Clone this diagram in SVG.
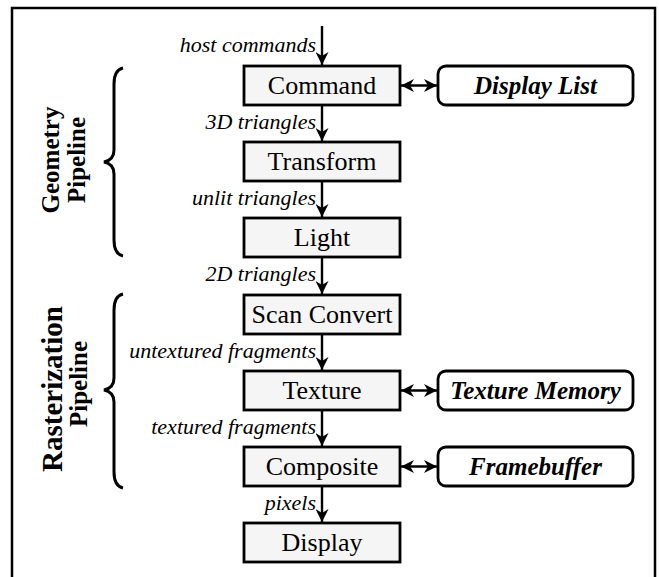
<svg xmlns="http://www.w3.org/2000/svg" width="659" height="577" viewBox="0 0 659 577">
<defs>
<style>
.frame{fill:none;stroke:#000;stroke-width:2.5}
.box{fill:#f5f5f5;stroke:#000;stroke-width:2.8}
.mem{fill:#fff;stroke:#000;stroke-width:2.8}
.bt{font-family:"Liberation Serif",serif;font-size:26px;text-anchor:middle;fill:#000}
.mt{font-family:"Liberation Serif",serif;font-size:25px;font-weight:bold;font-style:italic;text-anchor:middle;fill:#000}
.lb{font-family:"Liberation Serif",serif;font-size:22px;font-style:italic;text-anchor:end;fill:#000}
.pl{font-family:"Liberation Serif",serif;font-size:25px;font-weight:bold;text-anchor:middle;fill:#000}
.ln{fill:none;stroke:#000;stroke-width:2.4}
.br{fill:none;stroke:#000;stroke-width:3}
</style>
<marker id="ah2" viewBox="0 0 10 10" refX="10" refY="5" markerWidth="14" markerHeight="13" orient="auto-start-reverse" markerUnits="userSpaceOnUse">
<path d="M0,0 L10,5 L0,10 L3,5 Z" fill="#000"/>
</marker>
</defs>
<rect class="frame" x="12" y="8" width="643" height="580"/>

<g id="connectors">
<line class="ln" x1="322" y1="26" x2="322" y2="65" marker-end="url(#ah2)"/>
<line class="ln" x1="322" y1="105" x2="322" y2="141" marker-end="url(#ah2)"/>
<line class="ln" x1="322" y1="181" x2="322" y2="217" marker-end="url(#ah2)"/>
<line class="ln" x1="322" y1="257" x2="322" y2="294" marker-end="url(#ah2)"/>
<line class="ln" x1="322" y1="334" x2="322" y2="370" marker-end="url(#ah2)"/>
<line class="ln" x1="322" y1="410" x2="322" y2="446" marker-end="url(#ah2)"/>
<line class="ln" x1="322" y1="486" x2="322" y2="522" marker-end="url(#ah2)"/>
<line class="ln" x1="401" y1="85.5" x2="437" y2="85.5" marker-start="url(#ah2)" marker-end="url(#ah2)"/>
<line class="ln" x1="401" y1="390.5" x2="437" y2="390.5" marker-start="url(#ah2)" marker-end="url(#ah2)"/>
<line class="ln" x1="401" y1="466.5" x2="437" y2="466.5" marker-start="url(#ah2)" marker-end="url(#ah2)"/>
<text class="lb" x="316" y="52">host commands</text>
<text class="lb" x="316" y="129">3D triangles</text>
<text class="lb" x="316" y="205">unlit triangles</text>
<text class="lb" x="316" y="281">2D triangles</text>
<text class="lb" x="316" y="358">untextured fragments</text>
<text class="lb" x="316" y="434">textured fragments</text>
<text class="lb" x="316" y="510">pixels</text>
</g>

<g id="geometry-pipeline">
<path class="br" d="M123,68 Q114,70 114,84 L114,150 Q114,160 104,162 Q114,164 114,174 L114,240 Q114,254 123,256"/>
<text class="pl" transform="translate(59,160) rotate(-90)">Geometry</text>
<text class="pl" transform="translate(85,160) rotate(-90)">Pipeline</text>
</g>
<g id="rasterization-pipeline">
<path class="br" d="M123,294 Q114,296 114,310 L114,378 Q114,388 104,390 Q114,392 114,402 L114,472 Q114,486 123,488"/>
<text class="pl" transform="translate(62,389) rotate(-90)" style="font-size:29px">Rasterization</text>
<text class="pl" transform="translate(87,384) rotate(-90)">Pipeline</text>
</g>

<g id="command"><rect class="box" x="244" y="66" width="156" height="39"/><text class="bt" x="322" y="94">Command</text></g>
<g id="transform"><rect class="box" x="244" y="142" width="156" height="39"/><text class="bt" x="322" y="170">Transform</text></g>
<g id="light"><rect class="box" x="244" y="218" width="156" height="39"/><text class="bt" x="322" y="246">Light</text></g>
<g id="scan-convert"><rect class="box" x="244" y="295" width="156" height="39"/><text class="bt" x="322" y="323">Scan Convert</text></g>
<g id="texture"><rect class="box" x="244" y="371" width="156" height="39"/><text class="bt" x="322" y="399">Texture</text></g>
<g id="composite"><rect class="box" x="244" y="447" width="156" height="39"/><text class="bt" x="322" y="475">Composite</text></g>
<g id="display"><rect class="box" x="244" y="523" width="156" height="39"/><text class="bt" x="322" y="551">Display</text></g>

<g id="display-list"><rect class="mem" x="438" y="66" width="195" height="39" rx="8"/><text class="mt" x="535.5" y="94">Display List</text></g>
<g id="texture-memory"><rect class="mem" x="438" y="371" width="195" height="39" rx="8"/><text class="mt" x="535.5" y="399">Texture Memory</text></g>
<g id="framebuffer"><rect class="mem" x="438" y="447" width="195" height="39" rx="8"/><text class="mt" x="535.5" y="475">Framebuffer</text></g>
</svg>
